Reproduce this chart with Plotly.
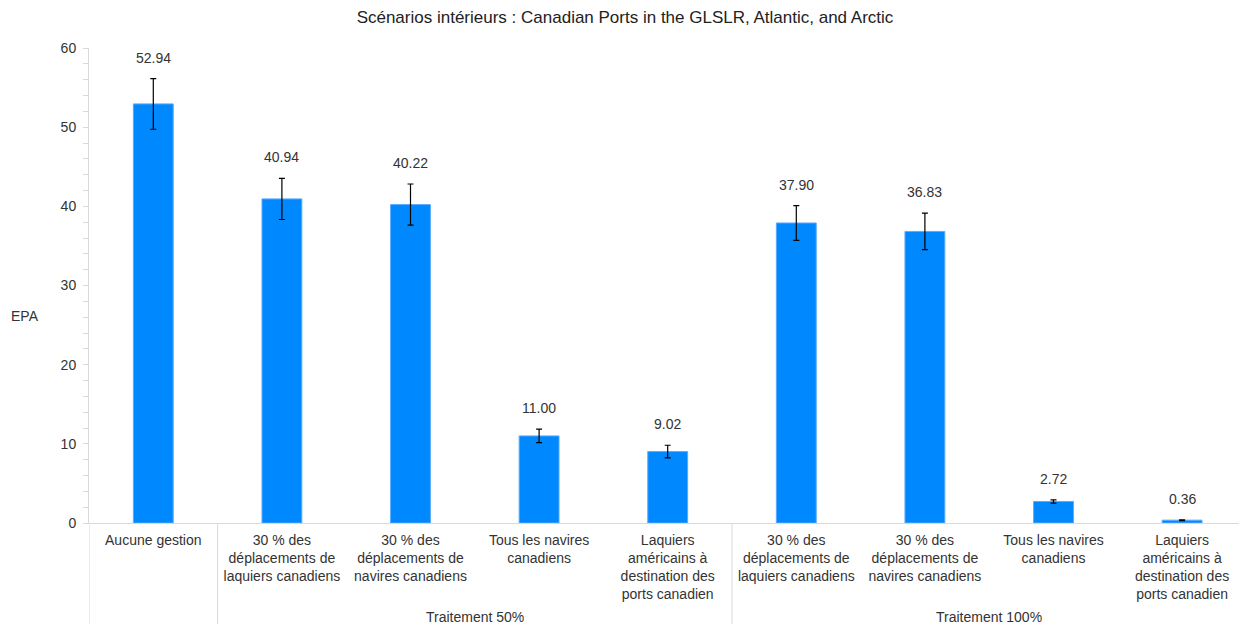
import plotly.graph_objects as go

title = "Scénarios intérieurs : Canadian Ports in the GLSLR, Atlantic, and Arctic"
categories = [
    "Aucune gestion",
    "30 % des<br>déplacements de<br>laquiers canadiens",
    "30 % des<br>déplacements de<br>navires canadiens",
    "Tous les navires<br>canadiens",
    "Laquiers<br>américains à<br>destination des<br>ports canadien",
    "30 % des<br>déplacements de<br>laquiers canadiens",
    "30 % des<br>déplacements de<br>navires canadiens",
    "Tous les navires<br>canadiens",
    "Laquiers<br>américains à<br>destination des<br>ports canadien",
]
values = [52.94, 40.94, 40.22, 11.00, 9.02, 37.90, 36.83, 2.72, 0.36]
errors = [3.2, 2.6, 2.6, 0.85, 0.8, 2.2, 2.3, 0.2, 0.05]
groups = ["", "Traitement 50%", "Traitement 100%"]
group_members = [[0], [1, 2, 3, 4], [5, 6, 7, 8]]
y_label = "EPA"

W, H = 1239, 624
L, R, T, B = 89, 0, 48, 101
plot_h = H - T - B
plot_w = W - L - R

FONT = "Liberation Sans, Arial, sans-serif"
TXT = "#333333"
GRID = "#d9d9d9"

xs = list(range(len(values)))

fig = go.Figure()
fig.add_trace(go.Bar(
    x=xs, y=values, width=0.31,
    marker=dict(color="#0088ff", line=dict(color="#5aaaff", width=1)),
    error_y=dict(type="data", array=errors, visible=True, color="#000000",
                 thickness=1.2, width=3),
    hoverinfo="skip",
))

annotations = []
for x, v, e in zip(xs, values, errors):
    annotations.append(dict(
        x=x, y=v + e, xref="x", yref="y", text=f"{v:.2f}", showarrow=False,
        yanchor="middle", yshift=21, font=dict(family=FONT, size=14, color=TXT)))

shapes = []
for gname, members in zip(groups, group_members):
    left = members[0] - 0.5
    right = members[-1] + 0.5
    shapes.append(dict(type="line", xref="x", yref="paper", x0=left, x1=left,
                       y0=0, y1=-B / plot_h, line=dict(color=GRID, width=1)))
    if gname:
        annotations.append(dict(
            x=(left + right) / 2, y=(T + plot_h - 617) / plot_h, xref="x", yref="paper",
            text=gname, showarrow=False, yanchor="middle",
            font=dict(family=FONT, size=14, color=TXT)))

annotations.append(dict(
    x=(25 - L) / plot_w, y=(T + plot_h - 316) / plot_h, xref="paper", yref="paper",
    text=y_label, showarrow=False, xanchor="center", yanchor="middle",
    font=dict(family=FONT, size=14, color=TXT)))

fig.update_layout(
    width=W, height=H,
    margin=dict(l=L, r=R, t=T, b=B, pad=0),
    paper_bgcolor="white", plot_bgcolor="white",
    showlegend=False,
    title=dict(text=title, x=625 / W, xanchor="center", y=1 - 17 / H, yanchor="middle",
               font=dict(family=FONT, size=17, color="#222222")),
    font=dict(family=FONT, size=14, color=TXT),
    xaxis=dict(
        range=[-0.5, -0.5 + plot_w / 128.6],
        tickmode="array", tickvals=xs, ticktext=categories,
        showgrid=False, zeroline=False, showline=True, linecolor=GRID, linewidth=1,
        ticks="", tickangle=0, ticklabelstandoff=4,
        tickfont=dict(family=FONT, size=14, color=TXT),
        fixedrange=True,
    ),
    yaxis=dict(
        range=[0, 60], dtick=10, tick0=0,
        showgrid=False, zeroline=False, showline=True, linecolor=GRID, linewidth=1,
        ticks="outside", ticklen=5, tickcolor=GRID, tickwidth=1,
        ticklabelstandoff=4,
        minor=dict(dtick=2, ticks="outside", ticklen=5, tickcolor=GRID, tickwidth=1, showgrid=False),
        tickfont=dict(family=FONT, size=14, color=TXT),
    ),
    annotations=annotations,
    shapes=shapes,
)

fig.write_html("out.html")
